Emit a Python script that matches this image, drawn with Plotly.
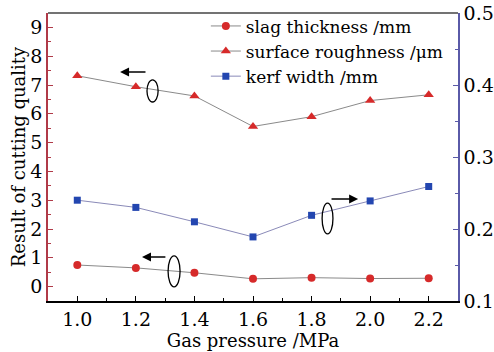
import plotly.graph_objects as go

pressure = [1.0, 1.2, 1.4, 1.6, 1.8, 2.0, 2.2]
slag_thickness = [0.75, 0.65, 0.48, 0.27, 0.31, 0.28, 0.29]
surface_roughness = [7.32, 6.94, 6.62, 5.56, 5.90, 6.46, 6.66]
kerf_width = [0.240, 0.230, 0.210, 0.189, 0.219, 0.239, 0.259]

x_ticks = [1.0, 1.2, 1.4, 1.6, 1.8, 2.0, 2.2]
x_ticklabels = ["1.0", "1.2", "1.4", "1.6", "1.8", "2.0", "2.2"]
left_ticks = list(range(0, 10))
right_ticks = [0.1, 0.2, 0.3, 0.4, 0.5]

FONT = "DejaVu Serif"
RED = "#d62a2a"
BLUE = "#2346b0"
LEFT_AX = "#b03a48"
RIGHT_AX = "#5a5aa8"

fig = go.Figure()
fig.add_trace(go.Scatter(
    x=pressure, y=slag_thickness, name="slag thickness /mm",
    mode="lines+markers",
    line=dict(color="#8a8a8a", width=1),
    marker=dict(symbol="circle", size=8, color=RED),
))
fig.add_trace(go.Scatter(
    x=pressure, y=surface_roughness, name="surface roughness /μm",
    mode="lines+markers",
    line=dict(color="#8a8a8a", width=1),
    marker=dict(symbol="triangle-up", size=9, color=RED),
))
fig.add_trace(go.Scatter(
    x=pressure, y=kerf_width, name="kerf width /mm",
    mode="lines+markers", yaxis="y2",
    line=dict(color="#8a8ab8", width=1),
    marker=dict(symbol="square", size=7, color=BLUE),
))

# arrows
arrows = [
    dict(x=1.146, y=7.45, ax=1.238, ay=7.45),
    dict(x=1.221, y=1.03, ax=1.306, ay=1.03),
    dict(x=1.959, y=3.04, ax=1.863, ay=3.04),
]
for a in arrows:
    fig.add_annotation(x=a["x"], y=a["y"], ax=a["ax"], ay=a["ay"],
                       xref="x", yref="y", axref="x", ayref="y",
                       showarrow=True, arrowhead=2, arrowsize=1.2,
                       arrowwidth=1.5, arrowcolor="black", text="")

# ellipses
ellipses = [
    (1.238, 6.41, 1.276, 7.18),
    (1.310, -0.01, 1.351, 1.07),
    (1.836, 1.83, 1.873, 2.90),
]
for x0, y0, x1, y1 in ellipses:
    fig.add_shape(type="circle", xref="x", yref="y", x0=x0, y0=y0, x1=x1, y1=y1,
                  line=dict(color="black", width=1.3))

# top border
fig.add_shape(type="line", xref="paper", yref="paper", x0=0, x1=1, y0=1, y1=1,
              line=dict(color="#444444", width=1.5))

fig.update_layout(
    width=494, height=352,
    margin=dict(l=48, r=36, t=13, b=51, autoexpand=False),
    paper_bgcolor="white", plot_bgcolor="white",
    font=dict(family=FONT, size=17, color="black"),
    showlegend=True,
    legend=dict(x=0.385, y=1.016, xanchor="left", yanchor="top",
                bgcolor="rgba(0,0,0,0)", font=dict(family=FONT, size=17),
                tracegroupgap=0, itemwidth=30),
    xaxis=dict(
        automargin=False,
        range=[0.9, 2.3], tickvals=x_ticks, ticktext=x_ticklabels,
        showgrid=False, zeroline=False, showline=True,
        linecolor="black", linewidth=1.5,
        ticks="inside", ticklen=5, tickcolor="black",
        minor=dict(dtick=0.1, ticks="inside", ticklen=3, tickcolor="black"),
        tickfont=dict(family=FONT, size=19),
        title=dict(text="Gas pressure /MPa", font=dict(family=FONT, size=18), standoff=2),
    ),
    yaxis=dict(
        automargin=False,
        range=[-0.5, 9.5], tickvals=left_ticks,
        showgrid=False, zeroline=False, showline=True,
        linecolor=LEFT_AX, linewidth=1.5,
        ticks="inside", ticklen=5, tickcolor=LEFT_AX,
        minor=dict(dtick=0.5, tick0=0, ticks="inside", ticklen=3, tickcolor=LEFT_AX),
        tickfont=dict(family=FONT, size=19),
        title=dict(text="Result of cutting quality", font=dict(family=FONT, size=18), standoff=0),
    ),
    yaxis2=dict(
        automargin=False,
        range=[0.1, 0.5], tickvals=right_ticks,
        tickformat=".1f",
        overlaying="y", side="right",
        showgrid=False, zeroline=False, showline=True,
        linecolor=RIGHT_AX, linewidth=1.5,
        ticks="inside", ticklen=5, tickcolor=RIGHT_AX,
        minor=dict(dtick=0.05, tick0=0.1, ticks="inside", ticklen=3, tickcolor=RIGHT_AX),
        tickfont=dict(family=FONT, size=19),
    ),
)

fig.write_html("out.html")
